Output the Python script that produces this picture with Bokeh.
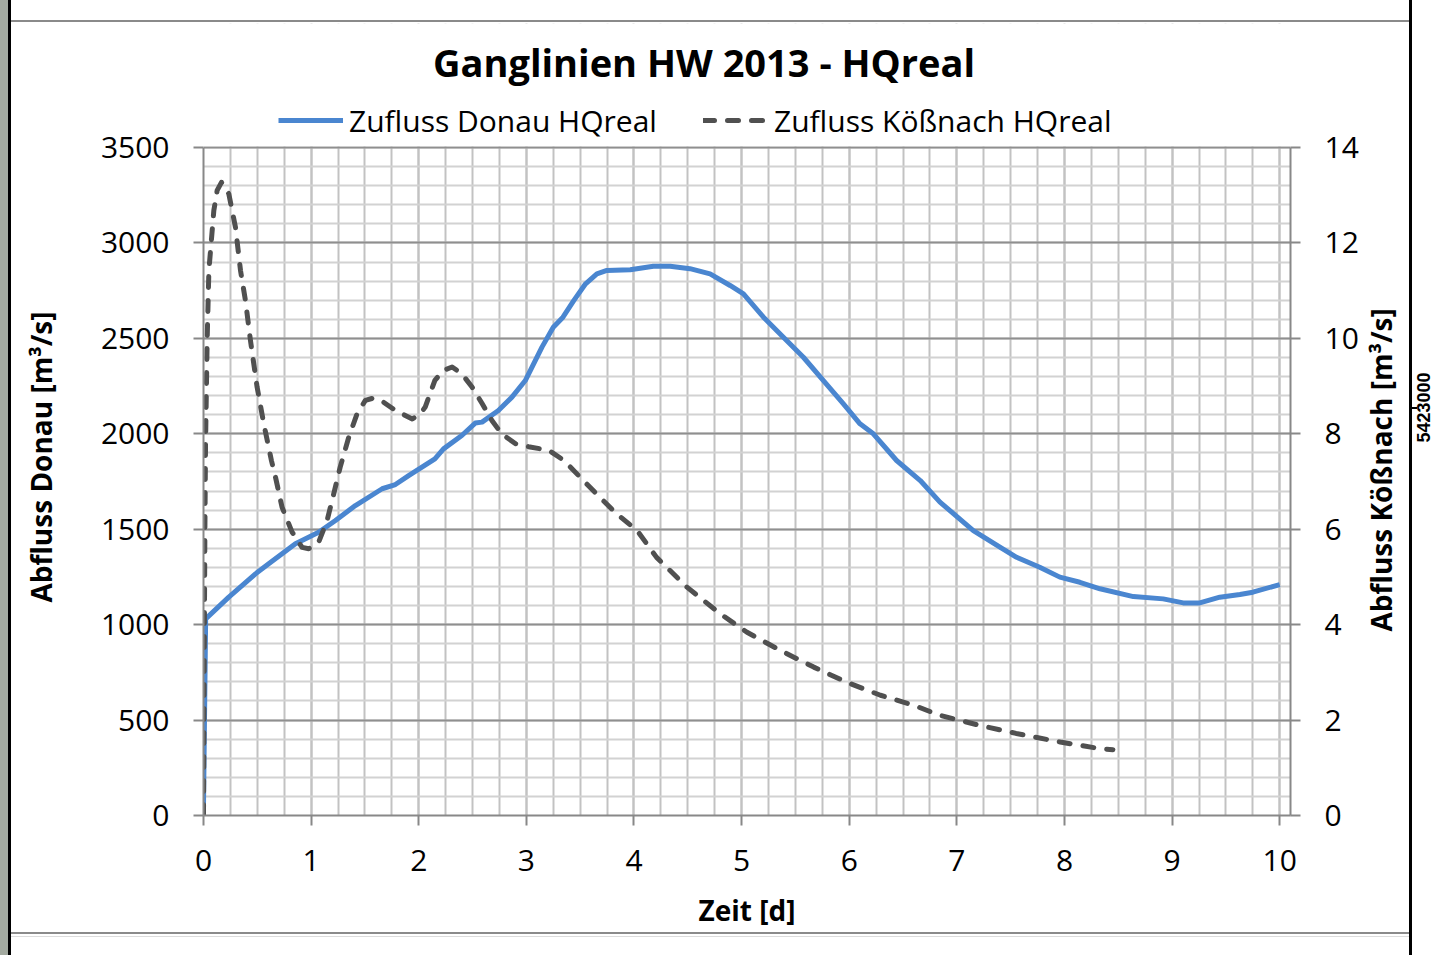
import math
from bokeh.plotting import figure
from bokeh.models import (Range1d, LinearAxis, FixedTicker, Legend, LegendItem, Label,
                          BoxAnnotation)
from bokeh.embed import file_html
from bokeh.resources import INLINE

title_text = "Ganglinien HW 2013 - HQreal"
x_label = "Zeit [d]"
y_left_label = "Abfluss Donau [m³/s]"
y_right_label = "Abfluss Kößnach [m³/s]"
series_names = ["Zufluss Donau HQreal", "Zufluss Kößnach HQreal"]
side_text = "5423000"

# Zufluss Donau (left axis)
donau_t = [0.0, 0.02, 0.235, 0.483, 0.606, 0.854, 1.07, 1.226, 1.411, 1.66, 1.783,
           1.906, 2.15, 2.23, 2.40, 2.525, 2.588, 2.74, 2.866, 2.99, 3.145, 3.25,
           3.34, 3.44, 3.55, 3.655, 3.748, 3.965, 4.18, 4.336, 4.52, 4.707, 4.893,
           5.017, 5.203, 5.388, 5.574, 5.76, 5.946, 6.10, 6.224, 6.44, 6.66, 6.843,
           7.153, 7.40, 7.555, 7.77, 7.957, 8.143, 8.33, 8.64, 8.917, 9.103, 9.257,
           9.443, 9.63, 9.75, 10.0]
donau_q = [50, 1030, 1144, 1266, 1319, 1424, 1484, 1546, 1624, 1712, 1734,
           1781, 1869, 1921, 1991, 2056, 2061, 2122, 2192, 2279, 2454, 2558,
           2611, 2698, 2786, 2838, 2856, 2859, 2878, 2878, 2865, 2838, 2777,
           2733, 2611, 2506, 2401, 2279, 2157, 2052, 2000, 1860, 1755, 1642,
           1493, 1406, 1353, 1301, 1249, 1222, 1188, 1147, 1135, 1114, 1114,
           1144, 1158, 1170, 1210]

# Zufluss Kößnach (right axis)
koess_t = [0.0, 0.006, 0.013, 0.019, 0.034, 0.05, 0.096, 0.127, 0.167, 0.235, 0.297,
           0.344, 0.39, 0.436, 0.498, 0.56, 0.631, 0.669, 0.73, 0.823, 0.916, 0.978,
           1.07, 1.148, 1.21, 1.27, 1.35, 1.427, 1.504, 1.58, 1.674, 1.783, 1.94,
           2.015, 2.06, 2.15, 2.23, 2.31, 2.40, 2.495, 2.59, 2.68, 2.77, 2.90, 3.02,
           3.21, 3.35, 3.50, 3.66, 3.84, 4.03, 4.21, 4.49, 4.80, 5.05, 5.36, 5.67,
           5.98, 6.29, 6.60, 6.84, 7.21, 7.55, 7.96, 8.33, 8.45]
koess_q = [0.0, 3.0, 6.0, 7.8, 9.96, 11.42, 12.68, 13.1, 13.27, 13.03, 12.33,
           11.42, 10.79, 9.96, 8.98, 8.21, 7.44, 7.09, 6.46, 5.94, 5.62, 5.59,
           5.73, 6.18, 6.74, 7.3, 7.93, 8.42, 8.70, 8.75, 8.66, 8.49, 8.31,
           8.42, 8.56, 9.12, 9.33, 9.40, 9.26, 8.98, 8.63, 8.28, 8.0, 7.79, 7.73,
           7.65, 7.44, 7.09, 6.72, 6.32, 5.97, 5.41, 4.79, 4.23, 3.84, 3.46, 3.11,
           2.79, 2.52, 2.31, 2.10, 1.89, 1.72, 1.54, 1.40, 1.38]

x_ticks = list(range(0, 11))
x_minor = [i / 4 for i in range(0, 41)]
y_left_ticks = list(range(0, 3501, 500))
y_left_minor = list(range(0, 3501, 100))
y_right_ticks = list(range(0, 15, 2))

FONT = "Open Sans"
BLUE = "#4a86d0"
DARK = "#505050"
AXIS_GRAY = "#888888"

# layout in pixels
W, H = 1439, 955
FRAME_L, FRAME_R, FRAME_T, FRAME_B = 203, 1291, 23, 815
PLOT_T = 147                      # pixel row of the top of the value axes
Y_MAX, Y2_MAX = 3500, 14
px_per_unit = (FRAME_B - PLOT_T) / Y_MAX
y_top = (FRAME_B - FRAME_T) / px_per_unit
y2_top = y_top * Y2_MAX / Y_MAX
x_px = (FRAME_R - FRAME_L) / 10.1


def y_at(px):                     # value on the left axis at pixel row px
    return (FRAME_B - px) / px_per_unit


# page frame (map sheet border) drawn as CSS background behind the transparent border
frame_bg = ", ".join([
    "linear-gradient(#000,#000) 1412px 407px / 5px 2px no-repeat",
    "linear-gradient(#000,#000) 8px 0px / 3px 100% no-repeat",
    "linear-gradient(#000,#000) 1409px 0px / 3px 100% no-repeat",
    "linear-gradient(#8a8a8a,#8a8a8a) 11px 20px / 1398px 2px no-repeat",
    "linear-gradient(#8a8a8a,#8a8a8a) 11px 932px / 1398px 2px no-repeat",
    "linear-gradient(#dcdcdc,#dcdcdc) 11px 936px / 1398px 1px no-repeat",
    "linear-gradient(#a3aaa0,#a3aaa0) 0px 0px / 8px 100% no-repeat",
    "#ffffff",
])

p = figure(width=W, height=H, x_range=Range1d(0, 10.1), y_range=Range1d(0, y_top),
           output_backend="svg", toolbar_location=None, title=None,
           min_border_left=FRAME_L, min_border_right=W - FRAME_R,
           min_border_top=FRAME_T, min_border_bottom=H - FRAME_B)
p.styles = {"background": frame_bg}
p.outline_line_color = None
p.background_fill_color = "white"
p.border_fill_color = None
p.extra_y_ranges = {"right": Range1d(0, y2_top)}

# grids
p.xaxis.ticker = FixedTicker(ticks=x_ticks, minor_ticks=x_minor)
p.yaxis.ticker = FixedTicker(ticks=y_left_ticks, minor_ticks=y_left_minor)
p.xgrid.grid_line_color = "#c2c2c2"
p.xgrid.grid_line_width = 2
p.xgrid.minor_grid_line_color = "#c2c2c2"
p.xgrid.minor_grid_line_width = 2
p.ygrid.minor_grid_line_color = "#d2d2d2"
p.ygrid.minor_grid_line_width = 2
p.ygrid.grid_line_color = "#8f8f8f"
p.ygrid.grid_line_width = 2
p.yaxis.bounds = (0, Y_MAX)

right_axis = LinearAxis(y_range_name="right",
                        ticker=FixedTicker(ticks=y_right_ticks, minor_ticks=[]),
                        bounds=(0, Y2_MAX))
p.add_layout(right_axis, "right")

for ax in [p.xaxis[0], p.yaxis[0], right_axis]:
    ax.axis_line_color = AXIS_GRAY
    ax.axis_line_width = 2
    ax.major_tick_line_color = AXIS_GRAY
    ax.major_tick_line_width = 2
    ax.major_tick_out = 10
    ax.major_tick_in = 0
    ax.minor_tick_line_color = None
    ax.major_label_text_font = FONT
    ax.major_label_text_font_size = "30px"
    ax.major_label_text_color = "black"
    ax.axis_label_text_font = FONT
    ax.axis_label_text_font_size = "28px"
    ax.axis_label_text_font_style = "bold"
    ax.axis_label_text_color = "black"

p.yaxis[0].major_label_standoff = 24
right_axis.major_label_standoff = 24
p.xaxis[0].axis_label = x_label
p.xaxis[0].major_label_standoff = 24
p.xaxis[0].axis_label_standoff = 17


def title_axis(text, px_row, standoff, font, size, style):
    """An axis without line or ticks whose single label carries a rotated text."""
    v = int(round(y_at(px_row)))
    return LinearAxis(ticker=FixedTicker(ticks=[v], minor_ticks=[]),
                      major_label_overrides={v: text},
                      axis_line_color=None, major_tick_line_color=None,
                      minor_tick_line_color=None, major_tick_out=0, major_tick_in=0,
                      major_label_standoff=standoff,
                      major_label_orientation=math.pi / 2,
                      major_label_text_font=font, major_label_text_font_size=size,
                      major_label_text_font_style=style,
                      major_label_text_color="black")


# rotated axis titles (positioned along the axis like in the original)
p.add_layout(title_axis(y_left_label, 311, 56, FONT, "28px", "bold"), "left")
p.add_layout(title_axis(y_right_label, 631, 20, FONT, "28px", "bold"), "right")
# map-sheet coordinate label on the far right
p.add_layout(title_axis(side_text, 442, 1, "Liberation Sans", "18px", "bold"), "right")

# blank header area inside the frame (hides the vertical grid lines above 3500)
p.add_layout(BoxAnnotation(bottom=y_at(PLOT_T - 1.2), fill_color="white", fill_alpha=1,
                           line_color=None, level="underlay"))

r1 = p.line(donau_t, donau_q, line_color=BLUE, line_width=5, line_join="round")
r2 = p.line(koess_t, koess_q, y_range_name="right", line_color=DARK, line_width=5,
            line_dash="11 13", line_cap="round", line_join="round")

for name, rend, gx in [(series_names[0], r1, 278), (series_names[1], r2, 703)]:
    leg = Legend(items=[LegendItem(label=name, renderers=[rend])],
                 location=(gx - FRAME_L, FRAME_B - 141), orientation="horizontal",
                 padding=0, margin=0, spacing=0, glyph_width=65, glyph_height=42,
                 label_height=42, label_standoff=6, label_text_font=FONT,
                 label_text_font_size="30px", label_text_color="black",
                 background_fill_alpha=0, border_line_color=None)
    p.add_layout(leg)

p.add_layout(Label(x=(704 - FRAME_L) / x_px, y=y_at(61), text=title_text,
                   text_align="center", text_baseline="alphabetic", text_font=FONT,
                   text_font_size="38px", text_font_style="bold", text_color="black"))

open("out.html", "w").write(file_html(p, INLINE))
